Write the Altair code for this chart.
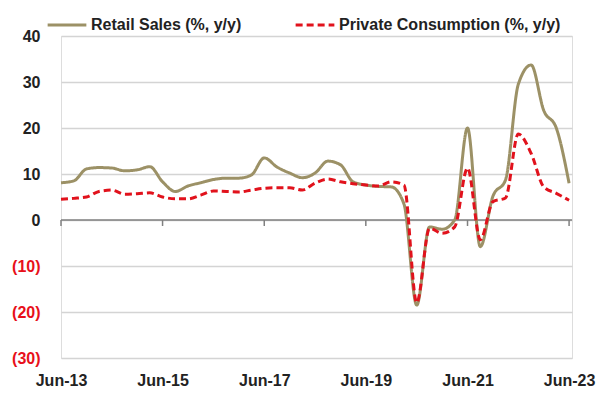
import altair as alt
import pandas as pd

# quarterly observations, Jun-13 .. Jun-23
dates = pd.date_range("2013-06-01", "2023-06-01", freq="3MS").strftime("%Y-%m-%d").tolist()

retail = [8.1, 8.5, 11.1, 11.4, 11.3, 10.7, 10.9, 11.6, 8.3, 6.2,
          7.4, 8.1, 8.8, 9.1, 9.1, 9.8, 13.5, 11.5, 10.2, 9.2,
          10.2, 12.8, 12.0, 8.3, 7.6, 7.3, 7.2, 3.5, -18.5, -1.5,
          -2.0, 0.0, 20.0, -5.8, 5.2, 8.7, 29.5, 33.7, 23.8, 20.0,
          8.0]
private = [4.5, 4.7, 5.0, 6.2, 6.5, 5.6, 5.7, 5.9, 5.0, 4.6,
           4.6, 5.4, 6.3, 6.2, 6.1, 6.5, 6.9, 7.0, 7.0, 6.5,
           8.0, 8.9, 8.3, 7.9, 7.6, 7.4, 8.3, 7.6, -18.0, -1.8,
           -2.9, -1.5, 11.3, -4.3, 4.0, 4.8, 18.7, 14.5, 7.2, 5.8,
           4.3]

series_names = ["Retail Sales (%, y/y)", "Private Consumption (%, y/y)"]
tick_dates = ["2013-06-01", "2015-06-01", "2017-06-01", "2019-06-01", "2021-06-01", "2023-06-01"]
y_ticks = [-30, -20, -10, 0, 10, 20, 30, 40]

FONT = "Liberation Sans Narrow, Arial Narrow, Liberation Sans, sans-serif"

df = pd.DataFrame({
    "date": dates * 2,
    "value": retail + private,
    "series": [series_names[0]] * len(dates) + [series_names[1]] * len(dates),
})
ticks_df = pd.DataFrame({"date": tick_dates})

x_scale = alt.Scale(domain=["2013-06-01", "2023-06-22"])
y_scale = alt.Scale(domain=[-30, 40], nice=False)

legend = alt.Legend(
    title=None, orient="none", legendX=-15, legendY=-32, direction="horizontal",
    symbolType="stroke", symbolSize=1500, symbolStrokeWidth=3,
    labelFont=FONT, labelFontSize=16, labelFontWeight="bold", labelColor="#222222",
    labelLimit=400, columnPadding=47, labelOffset=3, padding=0,
)

color = alt.Color(
    "series:N",
    scale=alt.Scale(domain=series_names, range=["#9c9166", "#e1121c"]),
    legend=legend,
)
dash = alt.StrokeDash(
    "series:N",
    scale=alt.Scale(domain=series_names, range=[[1, 0], [7, 4]]),
    legend=legend,
)

x_enc = alt.X(
    "date:T", scale=x_scale, title=None,
    axis=alt.Axis(values=tick_dates, format="%b-%y", grid=False, domain=False, ticks=False,
                  labelFont=FONT, labelFontSize=16, labelFontWeight="bold", labelColor="#222222",
                  labelPadding=14, labelFlush=False),
)
y_enc = alt.Y(
    "value:Q", scale=y_scale, title=None,
    axis=alt.Axis(values=y_ticks, grid=True, gridColor="#d4d4d4", gridWidth=1.5,
                  domain=False, ticks=False,
                  labelExpr="datum.value < 0 ? '(' + abs(datum.value) + ')' : datum.value",
                  labelColor={"condition": {"test": "datum.value < 0", "value": "#e8101a"}, "value": "#222222"},
                  labelFont=FONT, labelFontSize=16, labelFontWeight="bold", labelPadding=21),
)

base = alt.Chart(df)

retail_line = base.transform_filter(alt.datum.series == series_names[0]).mark_line(
    interpolate="monotone", strokeWidth=3
).encode(x=x_enc, y=y_enc, color=color, strokeDash=dash)

private_line = base.transform_filter(alt.datum.series == series_names[1]).mark_line(
    interpolate="monotone", strokeWidth=3
).encode(x=x_enc, y=y_enc, color=color, strokeDash=dash)

zero_line = alt.Chart(pd.DataFrame({"v": [0]})).mark_rule(color="#808080", strokeWidth=1.5).encode(
    y=alt.Y("v:Q", scale=y_scale)
)

tick_marks = alt.Chart(ticks_df).transform_calculate(y0="0", y1="-1.3").mark_rule(
    color="#808080", strokeWidth=1.5
).encode(
    x=alt.X("date:T", scale=x_scale),
    y=alt.Y("y0:Q", scale=y_scale),
    y2="y1:Q",
)

chart = alt.layer(zero_line, tick_marks, retail_line, private_line).properties(
    width=511, height=322,
    autosize=alt.AutoSizeParams(type="none"),
    padding={"left": 53, "top": 28, "right": 30, "bottom": 30},
).configure_view(stroke=None).configure(background="white")

chart.save("out.html", embed_options={"renderer": "svg", "actions": False})
